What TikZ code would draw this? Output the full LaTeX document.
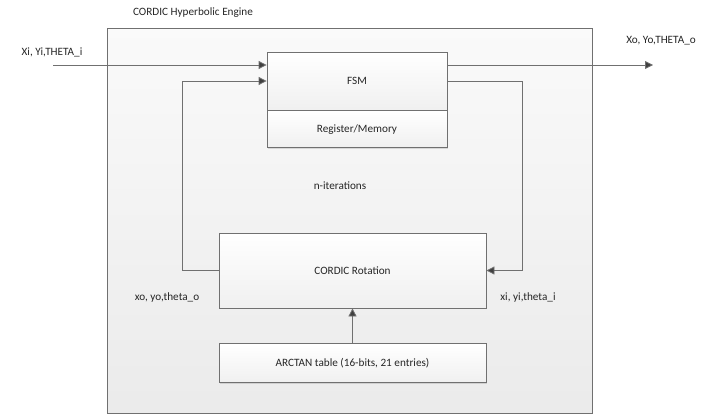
\documentclass[tikz,border=0pt]{standalone}
\usepackage{fontspec}
\setmainfont{Carlito}
\usetikzlibrary{arrows.meta, positioning, shadows}
\definecolor{linegray}{HTML}{707070}
\definecolor{tipgray}{HTML}{404040}

\begin{document}
\begin{tikzpicture}[x=1pt, y=-1pt, font=\fontsize{11.2}{13}\selectfont, text=black!85]
    \tikzset{
      process/.style={rectangle, draw=linegray, thick, top color=white, bottom color=black!6,
        drop shadow={shadow xshift=1pt, shadow yshift=-1pt, opacity=0.25},
        minimum width=267pt, text centered, inner sep=0pt},
      arrow/.style={thick, draw=linegray, -{Triangle[length=8pt, width=8pt, fill=tipgray]}},
      line/.style={thick, draw=linegray}
    }
    \useasboundingbox (0,0) rectangle (703,415);
    % outer box
    \node[rectangle, draw=linegray, thick, top color=black!2, bottom color=black!8,
      minimum width=485pt, minimum height=385pt, inner sep=0pt] (engine) at (349.5,220.5) {};
    \node (title) at (193,13) {CORDIC Hyperbolic Engine};

    \node[process, minimum width=180pt, minimum height=58pt] (fsm) at (357,81) {FSM};
    \node[process, minimum width=180pt, minimum height=37pt, below=0pt of fsm] (reg) {Register/Memory};
    \node[process, minimum height=75pt] (cordic) at (352.5,270.5) {CORDIC Rotation};
    \node[process, minimum height=39pt, below=35pt of cordic] (arctan) {ARCTAN table (16-bits, 21 entries)};

    \coordinate (in) at (53,65);
    \coordinate (out) at (653,65);
    \node (inlabel) at (52,52) {Xi, Yi,THETA\_i};
    \node (outlabel) at (661,41) {Xo, Yo,THETA\_o};
    \node (iter) at (340,186) {n-iterations};
    \node (loopout) at (167,298) {xo, yo,theta\_o};
    \node (loopin) at (528,298) {xi, yi,theta\_i};

    \draw[arrow] (in) -- (fsm.west |- in);
    \draw[arrow] (fsm.east |- out) -- (out);
    \draw[arrow] (cordic.west) -- ++(-36,0) |- (fsm.west);
    \draw[arrow] (fsm.east) -- ++(75,0) |- (cordic.east);
    \draw[arrow] (arctan.north) -- (cordic.south);
  \end{tikzpicture}
\end{document}
